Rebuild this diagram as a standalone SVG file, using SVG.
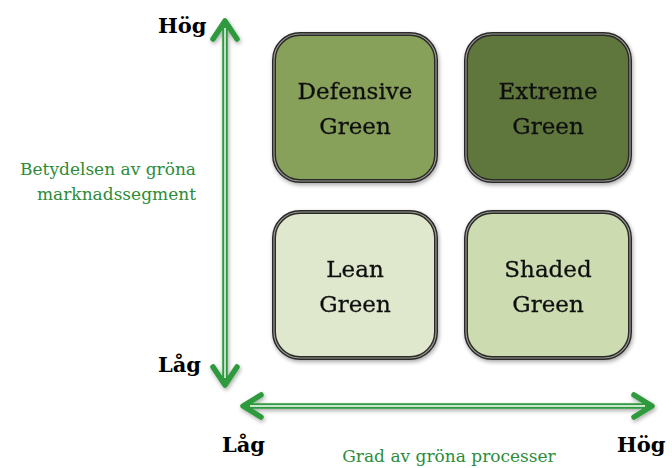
<svg xmlns="http://www.w3.org/2000/svg" width="672" height="468" viewBox="0 0 672 468">
<style>
.box{stroke:#2a2a2a;stroke-width:4}
.boxin{fill:none;stroke:#9a9a90;stroke-width:1.2}
.lbl{font-family:"DejaVu Serif","Liberation Serif",serif;font-size:23px;fill:#111;stroke:#111;stroke-width:0.3;text-anchor:middle}
.axis{font-family:"DejaVu Serif","Liberation Serif",serif;font-size:21px;font-weight:bold;fill:#000}
.gt{font-family:"DejaVu Serif","Liberation Serif",serif;font-size:17px;fill:#2c8c38}
.ln{fill:none;stroke:#2e9a3c;stroke-width:5.5;stroke-linecap:round;stroke-linejoin:round}
.lw{fill:none;stroke:#ffffff;stroke-width:1.4}
</style>
<defs>
<filter id="sh" x="-10%" y="-10%" width="120%" height="120%">
<feGaussianBlur in="SourceAlpha" stdDeviation="2"/>
<feOffset dx="1" dy="2"/>
<feComponentTransfer><feFuncA type="linear" slope="0.35"/></feComponentTransfer>
<feMerge><feMergeNode/><feMergeNode in="SourceGraphic"/></feMerge>
</filter>
</defs>
<g id="defensive" filter="url(#sh)">
<rect class="box" x="274" y="34" width="162" height="147" rx="26" fill="#87a05a"/>
<rect class="boxin" x="274" y="34" width="162" height="147" rx="26"/>
<text class="lbl" x="355" y="99">Defensive</text>
<text class="lbl" x="355" y="134">Green</text>
</g>
<g id="extreme" filter="url(#sh)">
<rect class="box" x="466" y="34" width="164" height="147" rx="26" fill="#5f773c"/>
<rect class="boxin" x="466" y="34" width="164" height="147" rx="26"/>
<text class="lbl" x="548" y="99">Extreme</text>
<text class="lbl" x="548" y="134">Green</text>
</g>
<g id="lean" filter="url(#sh)">
<rect class="box" x="274" y="212" width="162" height="146" rx="26" fill="#dfe8cd"/>
<rect class="boxin" x="274" y="212" width="162" height="146" rx="26"/>
<text class="lbl" x="355" y="277">Lean</text>
<text class="lbl" x="355" y="312">Green</text>
</g>
<g id="shaded" filter="url(#sh)">
<rect class="box" x="466" y="212" width="164" height="146" rx="26" fill="#ccdcb0"/>
<rect class="boxin" x="466" y="212" width="164" height="146" rx="26"/>
<text class="lbl" x="548" y="277">Shaded</text>
<text class="lbl" x="548" y="312">Green</text>
</g>
<g id="connectors" filter="url(#sh)">
<path class="ln" d="M225,23 V383 M213,39 L225,21 L237,39 M213,367 L225,385 L237,367"/>
<path class="lw" d="M225,28 V378"/>
<path class="ln" d="M245,406 H650 M261,395 L243,406 L261,417 M634,395 L652,406 L634,417"/>
<path class="lw" d="M250,406 H645"/>
</g>
<g id="labels">
<text class="axis" x="158" y="33">Hög</text>
<text class="axis" x="158" y="372">Låg</text>
<text class="axis" x="222" y="452">Låg</text>
<text class="axis" x="617" y="452">Hög</text>
<text class="gt" x="196" y="175" text-anchor="end">Betydelsen av gröna</text>
<text class="gt" x="196" y="200" text-anchor="end">marknadssegment</text>
<text class="gt" x="449" y="462" text-anchor="middle">Grad av gröna processer</text>
</g>
</svg>
